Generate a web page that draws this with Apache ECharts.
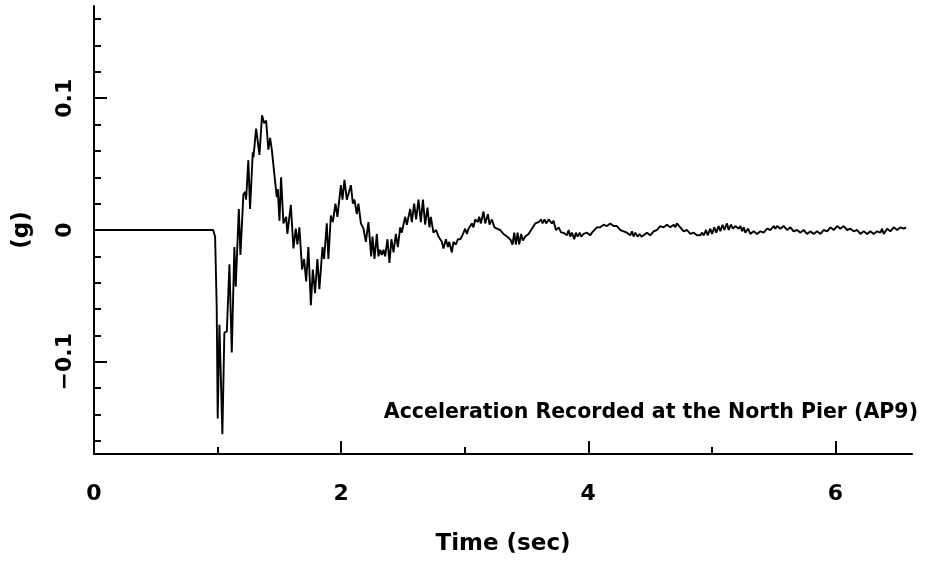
<!DOCTYPE html>
<html>
<head>
<meta charset="utf-8">
<script src="https://cdn.jsdelivr.net/npm/echarts@6/dist/echarts.min.js"></script>
<style>html,body{margin:0;padding:0;background:#fff}#chart{width:925px;height:561px}</style>
</head>
<body>
<div id="chart"></div>
<script>
// Time (sec)
const times = [
0,0.964,0.980,0.993,1.001,1.015,1.039,1.055,1.075,1.096,1.115,1.136,1.147,1.172,1.185,1.209,1.223,1.231,1.249,1.263,
1.285,1.290,1.312,1.339,1.360,1.377,1.393,1.411,1.425,1.439,1.452,1.479,1.487,1.501,1.514,1.533,1.555,1.565,1.593,1.614,
1.633,1.646,1.662,1.684,1.700,1.717,1.735,1.755,1.771,1.789,1.808,1.824,1.849,1.862,1.884,1.897,1.917,
1.933,1.954,1.970,1.998,2.011,2.027,2.046,2.079,2.095,2.108,2.127,2.140,2.160,2.181,2.200,2.221,2.243,2.254,2.270,2.289,
2.302,2.316,2.329,2.343,2.356,2.375,2.391,2.407,2.424,2.443,2.459,2.478,2.491,2.518,2.532,2.559,2.572,2.591,2.607,2.626,
2.645,2.662,2.680,2.699,2.715,2.726,2.747,2.769,2.788,
2.815,2.828,2.848,2.864,2.874,2.896,2.909,2.929,2.945,2.964,2.977,3.004,3.018,3.031,3.058,3.071,3.085,3.107,3.117,3.131,
3.152,3.166,3.188,3.201,3.220,3.241,3.261,3.287,3.314,3.342,3.368,3.387,3.401,3.414,3.428,3.441,3.457,3.471,3.490,3.517,
3.544,3.571,3.598,3.619,3.630,3.646,3.660,3.679,3.706,3.719,3.738,3.760,3.781,
3.800,3.828,3.841,3.854,3.868,3.887,3.900,3.914,3.930,3.943,3.962,3.989,4.016,4.030,4.043,4.070,4.097,4.124,4.151,4.178,
4.205,4.232,4.259,4.286,4.313,4.340,4.354,4.367,4.381,4.399,4.415,4.429,4.448,4.475,4.502,4.529,4.556,4.583,4.610,4.637,
4.664,4.691,4.704,4.717,4.745,4.772,4.799,4.826,4.853,4.880,4.907,4.921,4.934,4.953,4.966,4.988,5.002,5.020,5.036,5.055,
5.069,5.087,5.101,5.123,5.136,5.155,5.171,5.190,5.217,
5.231,5.245,5.258,5.271,5.293,5.312,5.339,5.366,5.393,5.420,5.447,5.474,5.501,5.514,5.528,5.555,5.582,5.609,5.636,5.662,
5.690,5.717,5.743,5.771,5.798,5.824,5.852,5.879,5.905,5.933,5.960,5.986,6.014,6.040,6.067,6.095,6.121,6.148,6.176,6.202,
6.229,6.257,6.283,6.310,6.338,6.364,6.378,6.391,6.419,6.445,6.472,6.500,6.526,6.553,6.572
];
// Acceleration (g)
const accel = [
0,0,-0.005,-0.058,-0.143,-0.072,-0.155,-0.078,-0.077,-0.026,-0.093,-0.013,-0.043,0.016,-0.019,0.027,0.029,0.023,0.053,0.016,
0.059,0.055,0.077,0.057,0.087,0.081,0.083,0.061,0.070,0.061,0.060,0.025,0.031,0.007,0.040,0.005,0.010,-0.003,0.019,-0.014,
0.001,-0.011,0.002,-0.030,-0.022,-0.039,-0.013,-0.057,-0.030,-0.048,-0.022,-0.045,-0.013,-0.022,0.005,-0.022,0.011,
0.006,0.020,0.010,0.034,0.023,0.038,0.023,0.034,0.020,0.023,0.012,0.020,0.005,0.001,-0.009,0.006,-0.020,-0.005,-0.022,-0.003,
-0.020,-0.015,-0.019,-0.015,-0.020,-0.007,-0.025,-0.007,-0.017,-0.003,-0.013,0.002,-0.002,0.010,0.004,0.016,0.006,0.020,0.008,0.023,
0.006,0.023,0.004,0.017,0.002,0.010,-0.002,0.000,-0.005,
-0.009,-0.014,-0.007,-0.013,-0.009,-0.017,-0.009,-0.011,-0.007,-0.007,-0.005,0.001,-0.003,0.001,0.005,0.002,0.008,0.006,0.010,0.005,
0.014,0.005,0.012,0.004,0.008,0.002,0.001,0.000,-0.003,-0.005,-0.007,-0.011,-0.002,-0.011,-0.002,-0.011,-0.003,-0.008,-0.005,-0.003,
0.001,0.005,0.006,0.008,0.005,0.008,0.005,0.008,0.005,0.007,0.000,0.002,-0.002,
-0.002,-0.004,0.000,-0.005,-0.002,-0.007,-0.002,-0.005,-0.002,-0.005,-0.003,-0.002,-0.004,-0.002,-0.001,0.002,0.002,0.004,0.003,0.005,
0.003,0.003,0.000,-0.001,-0.002,-0.004,-0.001,-0.005,-0.002,-0.005,-0.003,-0.005,-0.004,-0.002,-0.004,-0.001,0.000,0.003,0.002,0.004,
0.002,0.004,0.002,0.005,0.002,-0.001,0.000,-0.003,-0.002,-0.004,-0.004,-0.002,-0.004,0.000,-0.004,0.001,-0.003,0.002,-0.002,0.003,
-0.001,0.004,0.000,0.005,0.000,0.004,0.001,0.003,0.001,
0.003,-0.001,0.002,-0.002,0.001,-0.003,-0.001,-0.003,-0.001,-0.002,0.001,0.000,0.003,0.001,0.003,0.001,0.003,0.000,0.002,-0.001,
0.000,-0.002,0.000,-0.003,-0.001,-0.003,-0.001,-0.003,0.000,-0.001,0.002,0.000,0.003,0.001,0.003,0.000,0.001,-0.001,0.000,-0.003,
-0.001,-0.003,-0.001,-0.003,-0.001,-0.002,0.001,-0.003,0.001,-0.001,0.002,0.000,0.002,0.001,0.002
];
const xMajorTicks = [0, 2, 4, 6];
const xMinorTicks = [1, 3, 5];
const yMajorTicks = [-0.1, 0, 0.1];
const yMinorTicks = [-0.16,-0.14,-0.12,-0.08,-0.06,-0.04,-0.02,0.02,0.04,0.06,0.08,0.12,0.14,0.16];
const yLabelText = {'-0.1': '\u22120.1', '0': '0', '0.1': '0.1'};
const xTitle = 'Time (sec)';
const yTitle = '(g)';
const noteText = 'Acceleration Recorded at the North Pier (AP9)';

const FONT = 'DejaVu Sans';
const chart = echarts.init(document.getElementById('chart'), null, {renderer: 'canvas'});
const data = times.map((t, i) => [t, accel[i]]);
const X_MIN = 0, X_MAX = 6.62, Y_MIN = -0.17, Y_MAX = 0.17;
const axisLine = {show: true, onZero: false, lineStyle: {color: '#000', width: 2}};

chart.setOption({
  animation: false,
  backgroundColor: '#fff',
  grid: {left: 94, right: 13, top: 6, bottom: 101, containLabel: false},
  title: {
    text: noteText, right: 2, top: 397,
    textStyle: {fontFamily: FONT, fontSize: 20.5, fontWeight: 'bold', color: '#000'}
  },
  xAxis: [{
    type: 'value', min: X_MIN, max: X_MAX, position: 'bottom',
    axisLine: axisLine,
    splitLine: {show: false},
    axisTick: {show: true, inside: true, length: 13, customValues: xMajorTicks, lineStyle: {width: 2, color: '#000'}},
    axisLabel: {show: true, customValues: xMajorTicks, margin: 29, fontFamily: FONT, fontSize: 22, fontWeight: 'bold', color: '#000'},
    name: xTitle, nameLocation: 'middle', nameGap: 79,
    nameTextStyle: {fontFamily: FONT, fontSize: 23, fontWeight: 'bold', color: '#000'}
  }, {
    type: 'value', min: X_MIN, max: X_MAX, position: 'bottom',
    axisLine: {show: false, onZero: false},
    splitLine: {show: false},
    axisTick: {show: true, inside: true, length: 7, customValues: xMinorTicks, lineStyle: {width: 2, color: '#000'}},
    axisLabel: {show: false}
  }],
  yAxis: [{
    type: 'value', min: Y_MIN, max: Y_MAX, position: 'left',
    axisLine: axisLine,
    splitLine: {show: false},
    axisTick: {show: true, inside: true, length: 13, customValues: yMajorTicks, lineStyle: {width: 2, color: '#000'}},
    axisLabel: {show: true, customValues: yMajorTicks, rotate: 90, margin: 18, fontFamily: FONT, fontSize: 22, fontWeight: 'bold', color: '#000',
      formatter: v => yLabelText[String(Math.round(v * 10) / 10)] ?? String(v)},
    name: yTitle, nameLocation: 'middle', nameGap: 60, nameRotate: 90,
    nameTextStyle: {fontFamily: FONT, fontSize: 23, fontWeight: 'bold', color: '#000'}
  }, {
    type: 'value', min: Y_MIN, max: Y_MAX, position: 'left', offset: 0,
    axisLine: {show: false, onZero: false},
    splitLine: {show: false},
    axisTick: {show: true, inside: true, length: 7, customValues: yMinorTicks, lineStyle: {width: 2, color: '#000'}},
    axisLabel: {show: false}
  }],
  series: [{
    type: 'line', data: data, xAxisIndex: 0, yAxisIndex: 0,
    showSymbol: false, symbol: 'none',
    lineStyle: {color: '#000', width: 1.9},
    silent: true
  }]
});
</script>
</body>
</html>
